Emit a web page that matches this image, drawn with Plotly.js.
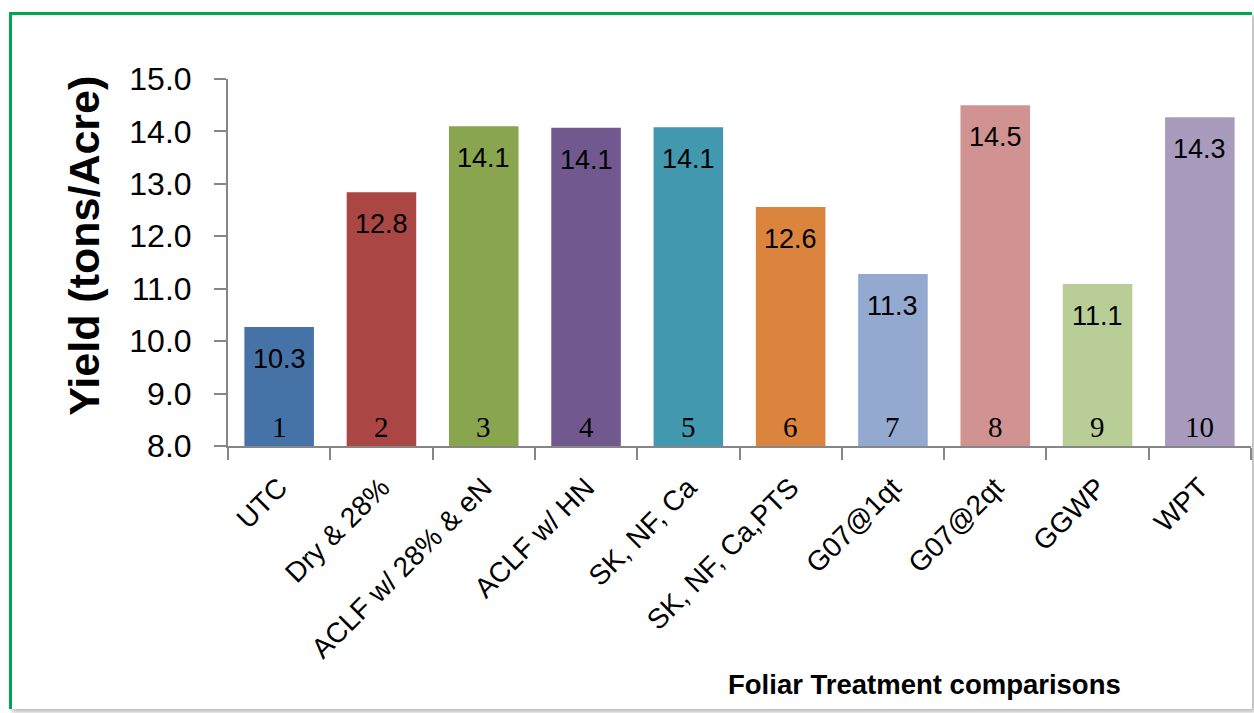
<!DOCTYPE html>
<html><head><meta charset="utf-8">
<script src="https://cdn.plot.ly/plotly-3.0.1.min.js"></script>
<style>
html,body{margin:0;padding:0;background:#fff;}
#frame{position:absolute;left:9px;top:12px;width:1240px;height:694px;border-left:3px solid #00A651;border-top:3px solid #00A651;box-shadow:3px 3px 4px #bbb;}
#chart{position:absolute;left:0;top:0;width:1254px;height:713px;}
</style></head>
<body>
<div id="frame"></div>
<div id="chart"></div>
<script>
const categories = ["UTC","Dry & 28%","ACLF w/ 28% & eN","ACLF w/ HN","SK, NF, Ca","SK, NF, Ca,PTS","G07@1qt","G07@2qt","GGWP","WPT"];
const yields = [10.27, 12.84, 14.10, 14.07, 14.08, 12.56, 11.28, 14.50, 11.09, 14.27];
const indexLabels = ["1","2","3","4","5","6","7","8","9","10"];
const colors = ["#4572A7","#AA4643","#89A54E","#71588F","#4198AF","#DB843D","#93A9CF","#D19392","#B9CD96","#A99BBD"];

const trace = {
  type: 'bar', x: categories, y: yields, base: 0,
  marker: {color: colors}, hoverinfo: 'none'
};
const annotations = [];
categories.forEach((c,i)=>{
  annotations.push({x:c, y:yields[i], xref:'x', yref:'y', text: yields[i].toFixed(1), showarrow:false,
    xanchor:'center', yanchor:'top', yshift:-15, font:{family:'Liberation Sans, Arial', size:27, color:'#000'}});
  annotations.push({x:c, y:8, xref:'x', yref:'y', text: indexLabels[i], showarrow:false,
    xanchor:'center', yanchor:'bottom', yshift:1, font:{family:'Liberation Serif, Times New Roman', size:29, color:'#000'}});
});
annotations.push({xref:'paper', yref:'paper', x:-0.141, y:0.545, xanchor:'center', yanchor:'middle',
  text:'<b>Yield (tons/Acre)</b>', textangle:-90, showarrow:false,
  font:{family:'Liberation Sans, Arial', size:43, color:'#000'}});
annotations.push({xref:'paper', yref:'paper', x:0.681, y:-0.651, xanchor:'center', yanchor:'middle',
  text:'<b>Foliar Treatment comparisons</b>', showarrow:false,
  font:{family:'Liberation Sans, Arial', size:27.5, color:'#000'}});

const layout = {
  width:1254, height:713,
  margin:{l:228, r:3, t:79, b:267},
  paper_bgcolor:'rgba(0,0,0,0)', plot_bgcolor:'rgba(0,0,0,0)',
  bargap:0.32, showlegend:false,
  xaxis:{type:'category', showline:true, linecolor:'#868686', linewidth:2, ticks:'outside', tickson:'boundaries',
    ticklen:12, tickcolor:'#868686', tickwidth:2, tickangle:-45, showgrid:false, automargin:false,
    ticklabelstandoff:12, tickfont:{family:'Liberation Sans, Arial', size:28, color:'#000'}},
  yaxis:{range:[8,15], dtick:1, tick0:8, tickformat:'.1f', showline:true, linecolor:'#868686', linewidth:2,
    ticks:'outside', ticklen:12, tickcolor:'#868686', tickwidth:2, showgrid:false, zeroline:false, automargin:false,
    ticklabelstandoff:16, tickfont:{family:'Liberation Sans, Arial', size:32, color:'#000'}},
  annotations: annotations
};
Plotly.newPlot('chart', [trace], layout, {staticPlot:true, displayModeBar:false});
</script>
</body></html>
